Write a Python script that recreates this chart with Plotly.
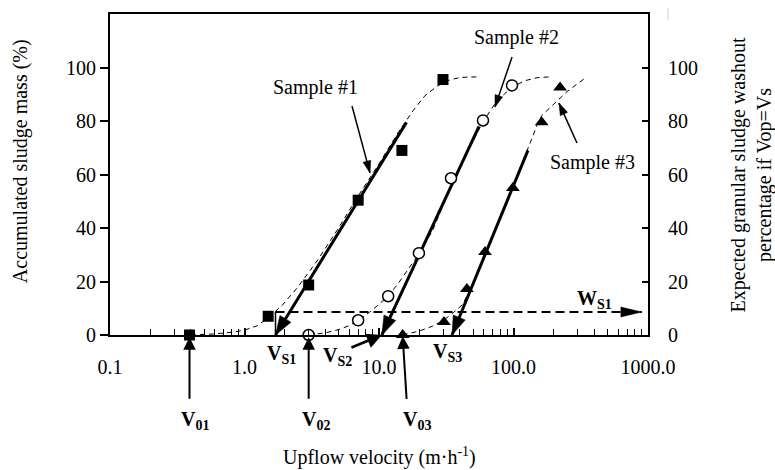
import numpy as np
import plotly.graph_objects as go

# ---------------- data ----------------
s1_x = [0.39, 1.5, 3.0, 7.0, 14.8, 29.9]
s1_y = [0, 7.0, 18.7, 50.4, 69.0, 95.5]
s2_x = [3.0, 7.0, 11.7, 19.8, 34.3, 59.3, 97.5]
s2_y = [0, 5.5, 14.5, 30.6, 58.6, 80.2, 93.3]
s3_x = [15.0, 30.4, 45.0, 61.4, 99.0, 162.0, 222.0]
s3_y = [0, 4.9, 17.2, 31.0, 55.0, 79.5, 92.5]

fit1_x = [0.4, 0.6, 0.8, 1.0, 1.25, 1.5, 1.9, 2.5, 3.5, 5, 7, 10, 14, 18, 22, 27, 33, 40, 54]
fit1_y = [0, 0.4, 1.0, 1.8, 3.5, 6.5, 11, 18, 28, 40, 52, 64, 76, 84, 89.5, 93, 95.2, 96.3, 96.5]
fit2_x = [3.0, 4, 5, 6, 7, 8.5, 10, 11.7, 14, 20, 25, 34, 45, 59, 75, 97, 120, 150, 187]
fit2_y = [0, 0.8, 2, 3.5, 5.5, 8.5, 11.5, 14.5, 19.5, 30.6, 39, 55, 68, 79.5, 87.5, 92.5, 95, 96.2, 96.5]
fit3_x = [15, 20, 25, 30.4, 36, 41.4, 50, 61, 80, 99, 128, 150, 162, 200, 250, 300, 352]
fit3_y = [0, 1.5, 3.3, 5.6, 8.5, 11.2, 18.5, 29.5, 44.5, 55.5, 70, 78.5, 82, 86.5, 91, 94, 96.5]

# regression lines (top -> bottom, arrow at V_s)
line1_x = [16.0, 1.7]
line1_y = [79.5, 0]
line2_x = [55.4, 10.5]
line2_y = [78.0, 0]
line3_x = [128.0, 34.9]
line3_y = [69.0, 0]

# V_S1 marker and W_S1 washout level
vs1_x = [1.7, 1.7]
vs1_y = [0, 8.6]
ws1_x = [1.7, 900]
ws1_y = [8.6, 8.6]

x_tickvals = [0.1, 1, 10, 100, 1000]
x_ticktext = ["0.1", "1.0", "10.0", "100.0", "1000.0"]
y_tickvals = [0, 20, 40, 60, 80, 100]
X_RANGE = [-1, 3]
Y_MAX = 120

FONT = "Liberation Serif"
BLACK = "#000000"
W, H = 775, 470
M = dict(l=110, r=127, t=14, b=135)

lg = np.log10
PXD = (W - M["l"] - M["r"]) / (X_RANGE[1] - X_RANGE[0])   # px per decade
PXY = (H - M["t"] - M["b"]) / Y_MAX                        # px per y unit

fig = go.Figure()


def add_head(tip_x, tip_y, tail_x, tail_y, length, width):
    """Filled arrowhead at (tip) pointing away from (tail), sizes in px."""
    X0, Y0 = lg(tip_x) * PXD, tip_y * PXY
    X1, Y1 = lg(tail_x) * PXD, tail_y * PXY
    dx, dy = X1 - X0, Y1 - Y0
    n = np.hypot(dx, dy)
    ux, uy = dx / n, dy / n
    bx, by = X0 + ux * length, Y0 + uy * length
    px, py = -uy, ux
    pts = [(X0, Y0), (bx + px * width / 2, by + py * width / 2),
           (bx - px * width / 2, by - py * width / 2), (X0, Y0)]
    fig.add_trace(go.Scatter(x=[10 ** (p[0] / PXD) for p in pts],
                             y=[p[1] / PXY for p in pts],
                             mode="lines", fill="toself", fillcolor=BLACK,
                             line=dict(color=BLACK, width=0.5),
                             showlegend=False, hoverinfo="skip"))


for fx, fy in [(fit1_x, fit1_y), (fit2_x, fit2_y), (fit3_x, fit3_y)]:
    fig.add_trace(go.Scatter(x=fx, y=fy, mode="lines",
                             line=dict(color=BLACK, width=1, dash="5px,4px"),
                             showlegend=False, hoverinfo="skip"))

for lx, ly in [(line1_x, line1_y), (line2_x, line2_y), (line3_x, line3_y)]:
    fig.add_trace(go.Scatter(x=lx, y=ly, mode="lines",
                             line=dict(color=BLACK, width=3),
                             showlegend=False, hoverinfo="skip"))
    add_head(lx[1], ly[1], lx[0], ly[0], 19, 13)

fig.add_trace(go.Scatter(x=vs1_x, y=vs1_y, mode="lines",
                         line=dict(color=BLACK, width=1.5),
                         showlegend=False, hoverinfo="skip"))
fig.add_trace(go.Scatter(x=ws1_x, y=ws1_y, mode="lines",
                         line=dict(color=BLACK, width=2, dash="9px,5px"),
                         showlegend=False, hoverinfo="skip"))
add_head(ws1_x[1], ws1_y[1], ws1_x[0], ws1_y[0], 21, 10)

# thin pointer arrows inside the plot: (tail_x, tail_y, tip_x, tip_y)
pointers = [
    (6.3, 85.6, 8.57, 60.6),
    (97.5, 103.9, 72.8, 85.2),
    (296.5, 71.8, 217.8, 86.7),
]
for tx, ty, hx, hy in pointers:
    fig.add_trace(go.Scatter(x=[tx, hx], y=[ty, hy], mode="lines",
                             line=dict(color=BLACK, width=1.5),
                             showlegend=False, hoverinfo="skip"))
    add_head(hx, hy, tx, ty, 12, 8)

fig.add_trace(go.Scatter(x=s1_x, y=s1_y, mode="markers",
                         marker=dict(symbol="square", size=11, color=BLACK),
                         showlegend=False, cliponaxis=False))
fig.add_trace(go.Scatter(x=s2_x, y=s2_y, mode="markers",
                         marker=dict(symbol="circle", size=11, color="white",
                                     line=dict(color=BLACK, width=1.5)),
                         showlegend=False, cliponaxis=False))
fig.add_trace(go.Scatter(x=s3_x, y=s3_y, mode="markers",
                         marker=dict(symbol="triangle-up", size=12, color=BLACK),
                         showlegend=False, cliponaxis=False))
# invisible trace for right axis
fig.add_trace(go.Scatter(x=[1], y=[50], yaxis="y2", mode="markers",
                         marker=dict(opacity=0), showlegend=False, hoverinfo="skip"))

# V_S2 pointer (from below the axis)
fig.add_annotation(x=lg(10.5), y=0, ax=lg(6.08), ay=-4.9, xref="x", yref="y",
                   axref="x", ayref="y", text="", showarrow=True,
                   arrowhead=2, arrowwidth=2.5, arrowsize=1.2, arrowcolor=BLACK)

# upward arrows below the axis: (tip_x, tip_y, tail offset dx px, dy px)
up_arrows = [
    (0.39, -0.8, 0, 63),
    (3.0, -0.8, 0, 63),
    (15.0, -0.5, 4, 64),
]
for hx, hy, dx, dy in up_arrows:
    fig.add_annotation(x=lg(hx), y=hy / Y_MAX, xref="x", yref="paper",
                       ax=dx, ay=dy, axref="pixel", ayref="pixel", text="",
                       showarrow=True, arrowhead=2, arrowwidth=2, arrowsize=1.25,
                       arrowcolor=BLACK)

labels = [
    ("Sample #1", 3.40, 92.7),
    ("Sample #2", 106, 111.4),
    ("Sample #3", 384, 64.3),
    ("<b>V<sub>S1</sub></b>", 1.87, -7.3),
    ("<b>V<sub>S2</sub></b>", 4.95, -8.0),
    ("<b>V<sub>S3</sub></b>", 32.1, -6.4),
    ("<b>W<sub>S1</sub></b>", 397, 13.1),
    ("<b>V<sub>01</sub></b>", 0.43, -32),
    ("<b>V<sub>02</sub></b>", 3.40, -32),
    ("<b>V<sub>03</sub></b>", 19.2, -32),
]
for t, x, y in labels:
    fig.add_annotation(x=lg(x), y=y / Y_MAX, xref="x", yref="paper", text=t,
                       showarrow=False, xanchor="center", yanchor="middle",
                       font=dict(family=FONT, size=20, color=BLACK))

fig.add_annotation(x=0.5, y=-0.38, xref="paper", yref="paper",
                   text="Upflow velocity (m·h<sup>-1</sup>)", showarrow=False,
                   xanchor="center", yanchor="middle",
                   font=dict(family=FONT, size=20, color=BLACK))
fig.add_annotation(x=-0.167, y=0.542, xref="paper", yref="paper",
                   text="Accumulated sludge mass (%)", textangle=-90, showarrow=False,
                   xanchor="center", yanchor="middle",
                   font=dict(family=FONT, size=20, color=BLACK))
fig.add_annotation(x=1.192, y=0.498, xref="paper", yref="paper",
                   text="Expected granular sludge washout<br>percentage if Vop=Vs",
                   textangle=-90, showarrow=False, xanchor="center", yanchor="middle",
                   font=dict(family=FONT, size=20, color=BLACK))

# faint stray mark at the top right of the original figure
fig.add_shape(type="line", xref="paper", yref="paper", x0=1.037, x1=1.037,
              y0=0.982, y1=1.02, line=dict(color="#d0d0d0", width=1))

axis_font = dict(family=FONT, size=20, color=BLACK)
fig.update_layout(
    width=W, height=H,
    margin=M,
    paper_bgcolor="white", plot_bgcolor="white",
    font=dict(family=FONT, size=20, color=BLACK),
    showlegend=False,
    xaxis=dict(type="log", range=X_RANGE, tickmode="array", tickvals=x_tickvals,
               ticktext=x_ticktext, ticks="inside", ticklen=7, tickwidth=1.5,
               tickcolor=BLACK, showline=True, linewidth=2, linecolor=BLACK,
               mirror=True, showgrid=False, zeroline=False, tickfont=axis_font,
               ticklabelstandoff=13,
               minor=dict(dtick="D1", ticks="inside", ticklen=6, tickwidth=1.2,
                          tickcolor=BLACK, showgrid=False)),
    yaxis=dict(range=[0, Y_MAX], tickmode="array", tickvals=y_tickvals,
               ticks="outside", ticklen=8, tickwidth=1.5, tickcolor=BLACK,
               showline=True, linewidth=2, linecolor=BLACK, showgrid=False,
               zeroline=False, tickfont=axis_font),
    yaxis2=dict(range=[0, Y_MAX], overlaying="y", side="right", tickmode="array",
                tickvals=y_tickvals, ticks="inside", ticklen=6, tickwidth=1.5,
                tickcolor=BLACK, showline=True, linewidth=2, linecolor=BLACK,
                showgrid=False, zeroline=False, tickfont=axis_font,
                ticklabelstandoff=14),
)

fig.write_html("out.html",
               config={"displayModeBar": False},
               post_script="document.body.style.margin='0';"
                           "document.body.style.overflow='hidden';")
